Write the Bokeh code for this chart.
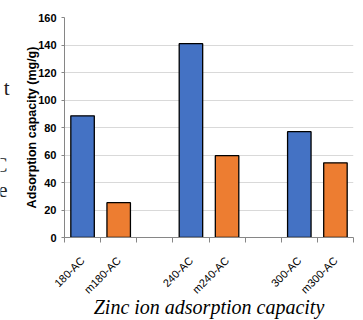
import math
from bokeh.plotting import figure
from bokeh.layouts import row
from bokeh.models import Range1d, FixedTicker, ColumnDataSource
from bokeh.core.properties import value
from bokeh.embed import file_html
from bokeh.resources import INLINE

# ---- data ----
groups = ["180", "240", "300"]
labels = ["180-AC", "m180-AC", "240-AC", "m240-AC", "300-AC", "m300-AC"]
values = [88.5, 25.3, 141.0, 59.5, 77.0, 54.3]
colors = ["#4472C4", "#ED7D31", "#4472C4", "#ED7D31", "#4472C4", "#ED7D31"]
y_ticks = [0, 20, 40, 60, 80, 100, 120, 140, 160]
y_title = "Adsorption capacity (mg/g)"
caption = "Zinc ion adsorption capacity"
# cropped letters of the surrounding page text visible at the left edge
edge_letters = ["t", "C", "e"]
edge_right = [9, 7, 7]
edge_baseline = [88, 165, 190]

# slot positions: each group uses 2 slots + 1 empty gap slot
xs = []
for g in range(len(groups)):
    xs += [3 * g + 0.5, 3 * g + 1.5]
n_slots = 3 * len(groups) - 1

src = ColumnDataSource(dict(x=xs, top=values, color=colors, label=labels))

# narrow strip with the cropped page letters (its frame is aligned with the chart frame)
strip_w = 14
frame_top, frame_bottom = 17, 238
f = figure(width=strip_w, height=320, output_backend="svg", toolbar_location=None,
           x_range=Range1d(0, strip_w), y_range=Range1d(frame_bottom, frame_top),
           min_border=0, x_axis_location=None, y_axis_location=None)
f.outline_line_color = None
f.xgrid.visible = False
f.ygrid.visible = False
f.text(x=edge_right, y=edge_baseline, text=edge_letters,
       text_align="right", text_baseline="alphabetic",
       text_font=value("Liberation Serif"), text_font_size="21px",
       text_color="#222222")

p = figure(width=363 - strip_w, height=320, output_backend="svg", toolbar_location=None,
           x_range=Range1d(0, n_slots), y_range=Range1d(0, 160),
           min_border_left=64 - strip_w, min_border_right=10,
           min_border_top=frame_top, min_border_bottom=320 - frame_bottom)
p.outline_line_color = None
p.background_fill_color = "white"
p.border_fill_color = "white"

p.vbar(x="x", top="top", width=0.65, bottom=0, fill_color="color",
       line_color="#000000", line_width=1.3, source=src)

# x axis
xa = p.xaxis[0]
xa.ticker = FixedTicker(ticks=xs, minor_ticks=list(range(0, n_slots + 1)))
xa.major_label_overrides = {x: l for x, l in zip(xs, labels)}
xa.major_label_orientation = math.pi / 4
xa.major_tick_line_color = None
xa.minor_tick_line_color = "#868686"
xa.minor_tick_in = 0
xa.minor_tick_out = 5
xa.axis_line_color = "#868686"
xa.major_label_text_font = "Liberation Sans"
xa.major_label_text_font_size = "11px"
xa.major_label_text_color = "#000000"
xa.major_label_standoff = 15
xa.axis_label = caption
xa.axis_label_text_font = "Liberation Serif"
xa.axis_label_text_font_style = "italic"
xa.axis_label_text_font_size = "20px"
xa.axis_label_text_color = "#000000"
xa.axis_label_standoff = -7

# y axis
ya = p.yaxis[0]
ya.ticker = FixedTicker(ticks=y_ticks)
ya.minor_tick_line_color = None
ya.major_tick_in = 0
ya.major_tick_out = 3
ya.major_tick_line_color = "#868686"
ya.axis_line_color = "#868686"
ya.major_label_text_font = "Liberation Sans"
ya.major_label_text_font_style = "bold"
ya.major_label_text_font_size = "11px"
ya.major_label_text_color = "#000000"
ya.major_label_standoff = 5
ya.axis_label = y_title
ya.axis_label_text_font = "Liberation Sans"
ya.axis_label_text_font_style = "bold"
ya.axis_label_text_font_size = "12.5px"
ya.axis_label_text_color = "#000000"
ya.axis_label_standoff = -4

p.xgrid.grid_line_color = None
p.ygrid.grid_line_color = "#d9d9d9"
p.ygrid.grid_line_width = 1.2

layout = row(f, p, spacing=0)
open("out.html", "w").write(file_html(layout, INLINE))
